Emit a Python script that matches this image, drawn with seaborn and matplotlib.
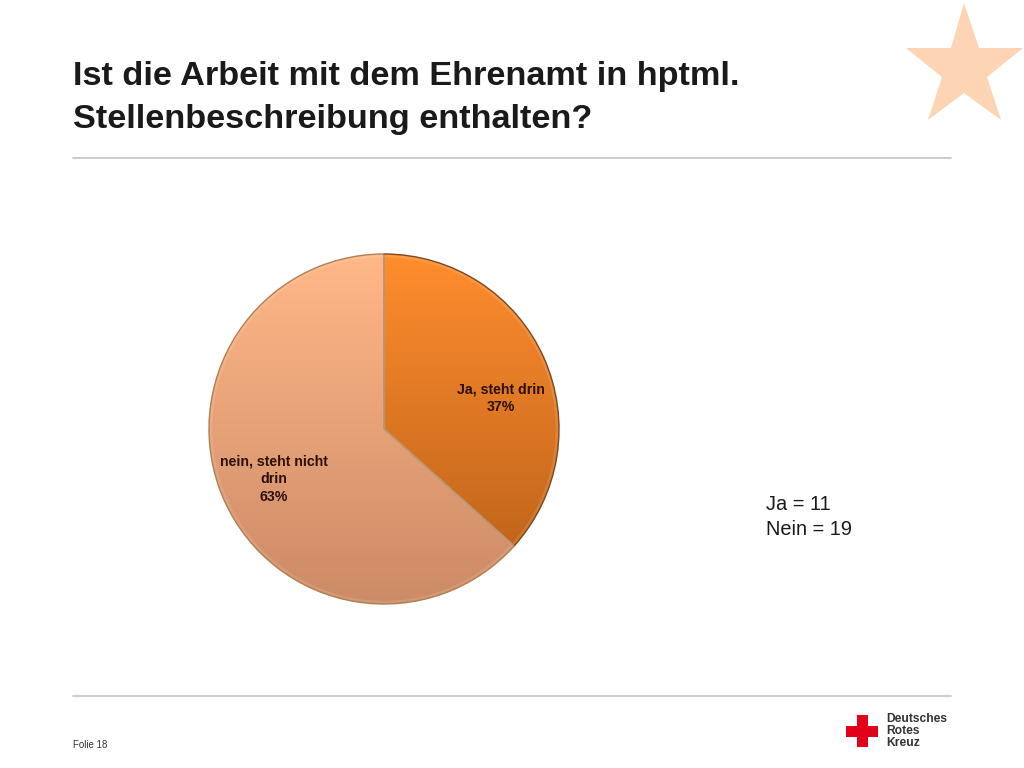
import numpy as np
import matplotlib
matplotlib.use("Agg")
import matplotlib.pyplot as plt
from matplotlib.colors import LinearSegmentedColormap
from matplotlib.patches import Polygon, Rectangle
import seaborn as sns

sns.set_theme(style="white")
plt.rcParams['font.family'] = ['Liberation Sans', 'DejaVu Sans']

categories = ["Ja, steht drin", "nein, steht nicht\ndrin"]
values = [11, 19]
percent_labels = ["37%", "63%"]
title_lines = "Ist die Arbeit mit dem Ehrenamt in hptml.\nStellenbeschreibung enthalten?"
note_lines = "Ja = 11\nNein = 19"
footer = "Folie 18"
logo_lines = "Deutsches\nRotes\nKreuz"
gradients = [("#FF8D2E", "#B65E18"), ("#FFB888", "#CC8A66")]
edge_colors = ["#7A4A20", "#B08050"]

W, H = 1024, 768
fig = plt.figure(figsize=(W / 100, H / 100), dpi=100, facecolor="white")

# page layer in pixel coordinates
page = fig.add_axes([0, 0, 1, 1])
page.set_xlim(0, W)
page.set_ylim(H, 0)
page.axis("off")
page.text(73, 98, title_lines, fontsize=24.65, fontweight="bold", color="#1a1a1a",
          va="center", ha="left", linespacing=1.5)
page.plot([73, 951], [157.5, 157.5], color="#c8c8c8", lw=1.3)
page.plot([73, 951], [695.5, 695.5], color="#c8c8c8", lw=1.3)
page.add_patch(Polygon([(964, 3), (979, 48), (1023, 48), (987, 77), (1001, 120),
                        (964, 93), (928, 120), (942, 77), (906, 48), (951, 48)],
                       closed=True, fc="#FDD5B4", ec="none"))
page.text(766, 517, note_lines, fontsize=14.4, color="#1a1a1a", va="center", ha="left",
          linespacing=1.36)
page.text(73, 744.5, footer, fontsize=7, color="#333333", va="center", ha="left")
page.add_patch(Rectangle((857, 715), 11, 32, fc="#E2001A", ec="none"))
page.add_patch(Rectangle((846, 726), 32, 10.5, fc="#E2001A", ec="none"))
page.text(886, 731, logo_lines, fontsize=8.7, fontweight="bold", color="#333333",
          va="center", ha="left", linespacing=0.98)

# pie layer: centre (384, 429), radius 175 px
cx, cy, r = 384, 429, 175
span = 1.1
side = 2 * span * r
ax = fig.add_axes([(cx - side / 2) / W, 1 - (cy + side / 2) / H, side / W, side / H])
ax.patch.set_alpha(0)
wedges, _ = ax.pie(values, startangle=90, counterclock=False, radius=1,
                   wedgeprops=dict(linewidth=1.0))
inner, _ = ax.pie(values, startangle=90, counterclock=False, radius=0.988,
                  wedgeprops=dict(linewidth=1.6, facecolor="none",
                                  edgecolor=(1, 1, 1, 0.12)))
ax.set_xlim(-span, span)
ax.set_ylim(-span, span)
ax.set_aspect("equal")
for w, (c_top, c_bot), ec in zip(wedges, gradients, edge_colors):
    w.set_facecolor("none")
    w.set_edgecolor(ec)
    w.set_zorder(3)
    cmap = LinearSegmentedColormap.from_list("g", [c_top, c_bot])
    im = ax.imshow(np.linspace(0, 1, 256)[:, None], cmap=cmap, aspect="auto",
                   extent=(-1, 1, -1, 1), origin="upper", zorder=2)
    im.set_clip_path(w)
for w in inner:
    w.set_zorder(4)
ax.set_xlim(-span, span)
ax.set_ylim(-span, span)

label_pos = [(501, 398), (274, 479)]
for (x, y), cat, pct in zip(label_pos, categories, percent_labels):
    ax.text((x - cx) / r, (cy - y) / r, f"{cat}\n{pct}", fontsize=10.2, fontweight="bold",
            color="#2a1005", ha="center", va="center", linespacing=1.32, zorder=5)

fig.savefig("out.png", dpi=100, facecolor="white")
